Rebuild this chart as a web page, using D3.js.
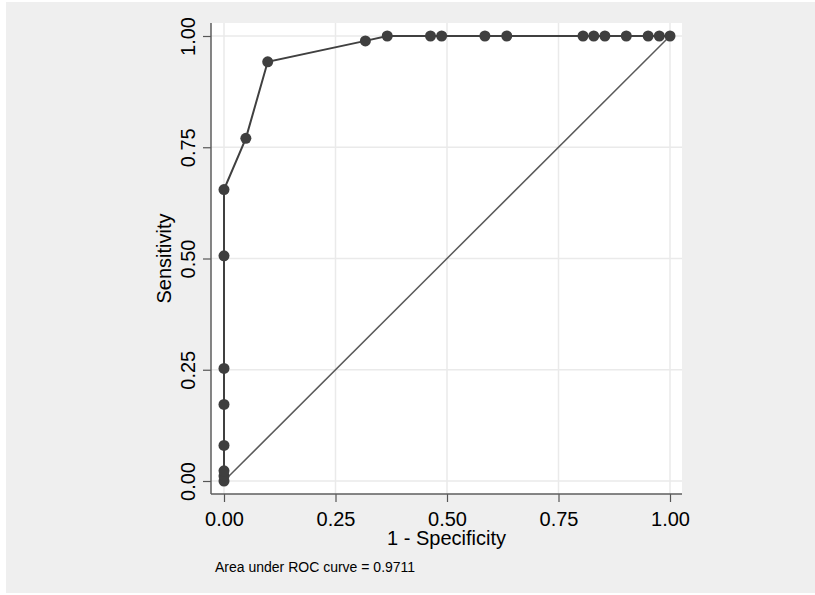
<!DOCTYPE html>
<html>
<head>
<meta charset="utf-8">
<script src="https://cdn.jsdelivr.net/npm/d3@7"></script>
<style>
  html, body { margin: 0; padding: 0; background: #fff; }
  svg { display: block; }
  text { font-family: "Liberation Sans", Arial, sans-serif; fill: #000; }
</style>
</head>
<body>
<svg id="chart" width="815" height="595"></svg>
<script>
// ROC points
var fpr = [0, 0, 0, 0, 0, 0, 0, 0, 0.049, 0.098, 0.317, 0.366, 0.463, 0.488,
           0.585, 0.634, 0.805, 0.829, 0.854, 0.902, 0.951, 0.976, 1.0];
var tpr = [0, 0.0115, 0.023, 0.080, 0.172, 0.253, 0.506, 0.655, 0.770, 0.942,
           0.989, 1, 1, 1, 1, 1, 1, 1, 1, 1, 1, 1, 1];
var tickValues = [0, 0.25, 0.5, 0.75, 1];
var xTitle = '1 - Specificity';
var yTitle = 'Sensitivity';
var note = 'Area under ROC curve = 0.9711';

var svg = d3.select('#chart');

// outer grey panel
svg.append('rect')
  .attr('x', 6).attr('y', 2)
  .attr('width', 809).attr('height', 591)
  .attr('fill', '#efefef');

// plot region
var plot = { left: 211, right: 682, top: 23, bottom: 494 };
var pad = 13;

svg.append('rect')
  .attr('x', plot.left).attr('y', plot.top)
  .attr('width', plot.right - plot.left)
  .attr('height', plot.bottom - plot.top)
  .attr('fill', '#fff');

var x = d3.scaleLinear().domain([0, 1]).range([plot.left + pad, plot.right - pad + 1]);
var y = d3.scaleLinear().domain([0, 1]).range([plot.bottom - pad, plot.top + pad]);

// gridlines
var grid = svg.append('g').attr('class', 'grid');
grid.selectAll('line.v').data(tickValues).enter().append('line')
  .attr('x1', function(d) { return x(d); }).attr('x2', function(d) { return x(d); })
  .attr('y1', plot.top).attr('y2', plot.bottom)
  .attr('stroke', '#eaeaea').attr('stroke-width', 1.5);
grid.selectAll('line.h').data(tickValues).enter().append('line')
  .attr('y1', function(d) { return y(d); }).attr('y2', function(d) { return y(d); })
  .attr('x1', plot.left).attr('x2', plot.right)
  .attr('stroke', '#eaeaea').attr('stroke-width', 1.5);

// axes
var xAxis = d3.axisBottom(x).tickValues(tickValues).tickSize(8).tickFormat(d3.format('.2f'));
var yAxis = d3.axisLeft(y).tickValues(tickValues).tickSize(8).tickFormat(d3.format('.2f'));

var gx = svg.append('g').attr('transform', 'translate(0,' + plot.bottom + ')').call(xAxis);
var gy = svg.append('g').attr('transform', 'translate(' + plot.left + ',0)').call(yAxis);

[gx, gy].forEach(function(g) {
  g.select('.domain').remove();
  g.selectAll('.tick line').attr('stroke', '#555').attr('stroke-width', 1.2);
  g.selectAll('.tick text')
    .style('font-family', '"Liberation Sans", Arial, sans-serif')
    .style('font-size', '20px')
    .attr('fill', '#000');
});

gx.selectAll('.tick text').attr('y', 0).attr('dy', null)
  .attr('transform', 'translate(0,32)');
gy.selectAll('.tick text').attr('x', 0).attr('dy', null)
  .attr('text-anchor', 'middle')
  .attr('transform', 'translate(-16,0) rotate(-90)');

// axis lines
svg.append('line')
  .attr('x1', plot.left).attr('x2', plot.left)
  .attr('y1', plot.top).attr('y2', plot.bottom)
  .attr('stroke', '#5e5e5e').attr('stroke-width', 1.5);
svg.append('line')
  .attr('x1', plot.left).attr('x2', plot.right)
  .attr('y1', plot.bottom).attr('y2', plot.bottom)
  .attr('stroke', '#5e5e5e').attr('stroke-width', 1.5);

// reference diagonal
svg.append('line')
  .attr('x1', x(0)).attr('y1', y(0))
  .attr('x2', x(1)).attr('y2', y(1))
  .attr('stroke', '#5a5a5a').attr('stroke-width', 1.5);

// ROC curve
var pts = fpr.map(function(d, i) { return [d, tpr[i]]; });
var line = d3.line().x(function(d) { return x(d[0]); }).y(function(d) { return y(d[1]); });

svg.append('path')
  .datum(pts)
  .attr('d', line)
  .attr('fill', 'none')
  .attr('stroke', '#404040')
  .attr('stroke-width', 2);

svg.append('g').selectAll('circle').data(pts).enter().append('circle')
  .attr('cx', function(d) { return x(d[0]); })
  .attr('cy', function(d) { return y(d[1]); })
  .attr('r', 5.5)
  .attr('fill', '#3f3f3f');

// titles
svg.append('text')
  .attr('x', (plot.left + plot.right) / 2).attr('y', 545)
  .attr('text-anchor', 'middle')
  .style('font-size', '20px')
  .text(xTitle);

svg.append('text')
  .attr('transform', 'translate(171,' + ((plot.top + plot.bottom) / 2) + ') rotate(-90)')
  .attr('text-anchor', 'middle')
  .style('font-size', '20px')
  .text(yTitle);

svg.append('text')
  .attr('x', 215).attr('y', 572)
  .style('font-size', '14px')
  .text(note);
</script>
</body>
</html>
